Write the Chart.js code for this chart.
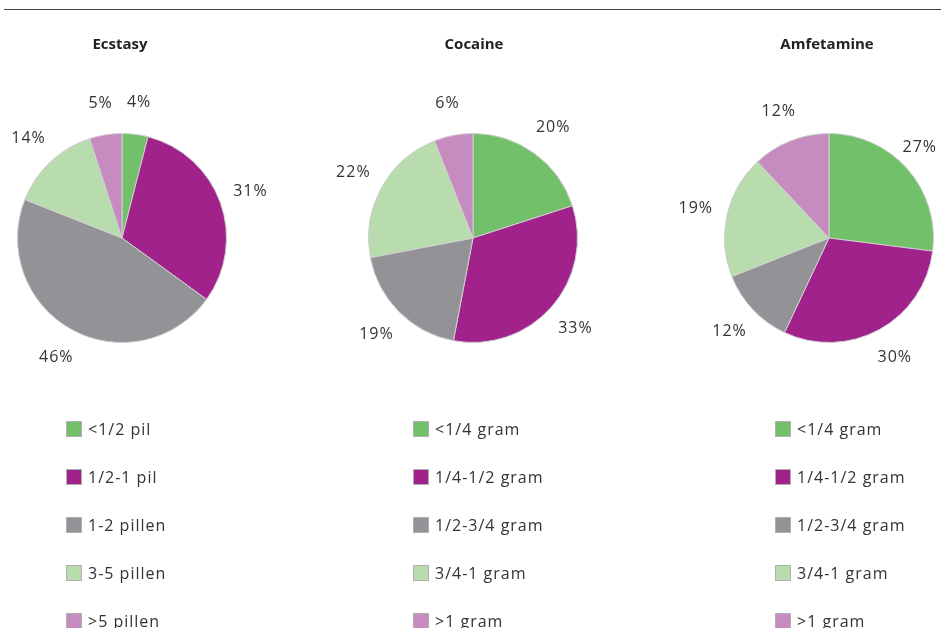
<!DOCTYPE html>
<html>
<head>
<meta charset="utf-8">
<script src="https://cdn.jsdelivr.net/npm/chart.js@4.4.0/dist/chart.umd.min.js"></script>
<style>
  body { margin: 0; background: #fff; width: 941px; height: 628px; overflow: hidden; position: relative; }
  canvas { position: absolute; left: 0; top: 0; }
  #rule { position: absolute; left: 4px; right: 0; top: 9px; border-top: 1.5px solid #444; }
</style>
</head>
<body>
<div id="rule"></div>
<canvas id="ecstasy" width="941" height="628"></canvas>
<canvas id="cocaine" width="941" height="628"></canvas>
<canvas id="amfetamine" width="941" height="628"></canvas>
<script>
// data
const titles = ['Ecstasy', 'Cocaine', 'Amfetamine'];
const pillLabels = ['<1/2 pil', '1/2-1 pil', '1-2 pillen', '3-5 pillen', '>5 pillen'];
const gramLabels = ['<1/4 gram', '1/4-1/2 gram', '1/2-3/4 gram', '3/4-1 gram', '>1 gram'];
const ecstasyValues = [4, 31, 46, 14, 5];
const cocaineValues = [20, 33, 19, 22, 6];
const amfetamineValues = [27, 30, 12, 19, 12];
const sliceColors = ['#72c16a', '#a0228a', '#939397', '#b8dcae', '#c68cbf'];

const W = 941, H = 628, R = 105, TOP = 133;

const pieExtras = {
    id: 'pieExtras',
    afterDraw(chart, args, opts) {
        const ctx = chart.ctx;
        ctx.save();
        // title
        ctx.fillStyle = '#222';
        ctx.font = 'bold 15px "Liberation Sans Narrow", "Open Sans"';
        ctx.textAlign = 'center';
        ctx.textBaseline = 'middle';
        ctx.fillText(opts.title, opts.titleX, 45);

        // percentage labels
        const meta = chart.getDatasetMeta(0);
        const values = chart.data.datasets[0].data;
        ctx.font = '16px "Open Sans"';
        ctx.letterSpacing = '1px';
        ctx.fillStyle = '#333';
        meta.data.forEach(function (arc, i) {
            const txt = values[i] + '%';
            const half = ctx.measureText(txt).width / 2;
            const mid = (arc.startAngle + arc.endAngle) / 2;
            const d = arc.outerRadius + 32;
            let x = arc.x + Math.cos(mid) * d;
            x = Math.min(x, W - half - 4);
            ctx.fillText(txt, x, arc.y + Math.sin(mid) * d);
        });

        // legend
        ctx.textAlign = 'left';
        chart.data.labels.forEach(function (lbl, i) {
            const y = 429 + 48 * i;
            ctx.fillStyle = sliceColors[i];
            ctx.fillRect(opts.legendX, y - 8, 16, 16);
            ctx.strokeStyle = '#b0b0b0';
            ctx.lineWidth = 1;
            ctx.strokeRect(opts.legendX + 0.5, y - 7.5, 15, 15);
            ctx.fillStyle = '#333';
            ctx.fillText(lbl, opts.legendX + 22, y + 1);
        });
        ctx.restore();
    }
};

function makePie(id, title, labels, values, cx, titleX, legendX) {
    new Chart(document.getElementById(id), {
        type: 'pie',
        data: {
            labels: labels,
            datasets: [{
                data: values,
                backgroundColor: sliceColors,
                borderColor: '#cfcfcf',
                borderWidth: 1
            }]
        },
        options: {
            responsive: false,
            animation: false,
            layout: {
                padding: { left: cx - R, right: W - cx - R, top: TOP, bottom: H - TOP - 2 * R }
            },
            plugins: {
                legend: { display: false },
                tooltip: { enabled: false },
                pieExtras: { title: title, titleX: titleX, legendX: legendX }
            }
        },
        plugins: [pieExtras]
    });
}

makePie('ecstasy', titles[0], pillLabels, ecstasyValues, 122, 120, 66);
makePie('cocaine', titles[1], gramLabels, cocaineValues, 473, 474, 413);
makePie('amfetamine', titles[2], gramLabels, amfetamineValues, 829, 827, 775);
</script>
</body>
</html>
